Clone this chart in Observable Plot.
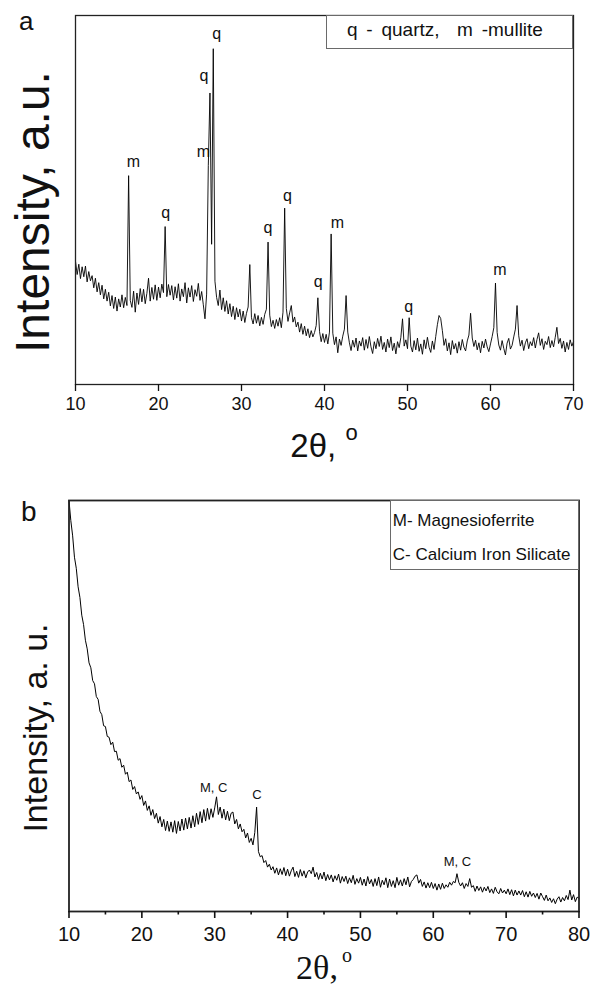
<!DOCTYPE html>
<html>
<head>
<meta charset="utf-8">
<script src="https://cdn.jsdelivr.net/npm/d3@7"></script>
<script src="https://cdn.jsdelivr.net/npm/@observablehq/plot@0.6"></script>
<style>
  html, body { margin: 0; padding: 0; background: #fff; }
  #wrap { position: relative; width: 593px; height: 988px; overflow: hidden; font-family: "Liberation Sans", Arial, sans-serif; color: #111; }
  #wrap > svg { position: absolute; left: 0; }
  .abs { position: absolute; line-height: 1; white-space: nowrap; }
  .box { position: absolute; box-sizing: border-box; border: 1px solid #6a6a6a; background: #fff; }
</style>
</head>
<body>
<div id="wrap"></div>
<script>
// ---------------- Panel a data (2θ from 10° to 70°, step 0.2°) ----------------
const thetaStartA = 10;
const thetaStepA = 0.2;
const intensityA = [
  33.4, 29.8, 32.6, 28.7, 31.9, 29.2, 32.1, 27.8, 30.6, 28.1,   // 10.0
  29.5, 26.2, 28.8, 25.1, 27.6, 24.3, 26.9, 23.2, 25.8, 22.6,   // 12.0
  25.0, 21.3, 24.1, 20.6, 23.7, 19.9, 23.2, 21.0, 24.3, 20.8,   // 14.0
  23.6, 21.4, 56.6, 22.8, 20.9, 25.3, 19.6, 24.8, 21.7, 26.0,   // 16.0
  22.4, 25.8, 21.9, 24.7, 28.8, 22.6, 26.3, 23.1, 27.0, 22.8,   // 18.0
  26.4, 23.5, 27.2, 24.9, 42.8, 23.8, 27.1, 24.2, 26.8, 22.9,   // 20.0
  26.5, 23.4, 27.3, 22.6, 25.9, 23.8, 27.6, 22.1, 26.2, 23.7,   // 22.0
  26.8, 22.5, 25.7, 23.9, 27.4, 22.8, 25.2, 21.6, 17.8, 24.5,   // 24.0
  59.3, 79.0, 38.0, 91.0, 28.0, 23.6, 21.4, 25.6, 20.3, 23.5,   // 26.0
  19.8, 22.7, 19.1, 21.9, 18.4, 21.2, 17.6, 20.8, 18.3, 20.4,   // 28.0
  17.2, 19.9, 16.8, 19.3, 21.0, 32.5, 18.1, 16.4, 19.2, 16.6,   // 30.0
  18.7, 15.9, 18.2, 16.3, 19.0, 20.4, 38.6, 18.8, 15.7, 17.4,   // 32.0
  15.2, 17.6, 15.8, 18.1, 15.4, 19.6, 47.8, 20.6, 17.1, 19.4,   // 34.0
  21.4, 16.9, 18.3, 15.6, 16.9, 14.2, 16.5, 13.6, 15.8, 13.2,   // 36.0
  15.1, 12.7, 14.6, 12.9, 14.1, 16.0, 23.5, 14.4, 11.6, 13.8,   // 38.0
  11.4, 13.6, 11.0, 14.2, 40.8, 13.9, 10.8, 12.9, 8.6, 12.3,    // 40.0
  10.6, 13.1, 15.0, 24.1, 14.2, 11.3, 9.2, 12.0, 10.1, 12.6,    // 42.0
  9.1, 11.8, 10.4, 12.7, 9.3, 12.2, 9.8, 13.0, 10.2, 8.4,       // 44.0
  11.6, 9.7, 12.5, 10.3, 13.1, 9.5, 11.4, 8.8, 12.3, 10.0,      // 46.0
  12.9, 9.2, 11.2, 8.3, 11.6, 10.0, 12.8, 17.8, 10.4, 12.1,     // 48.0
  9.7, 18.1, 10.4, 8.8, 11.9, 9.4, 12.6, 9.0, 11.0, 8.2,        // 50.0
  12.1, 9.7, 12.8, 10.1, 8.7, 11.8, 9.5, 13.0, 16.2, 18.7,      // 52.0
  17.9, 14.6, 10.6, 12.4, 9.1, 11.3, 8.1, 11.9, 9.6, 11.1,      // 54.0
  8.5, 11.6, 9.3, 12.2, 10.1, 9.1, 11.8, 13.4, 19.3, 12.6,      // 56.0
  10.3, 12.0, 9.4, 11.3, 8.6, 11.7, 9.9, 12.3, 10.2, 8.9,       // 58.0
  11.0, 13.0, 15.4, 27.5, 14.1, 10.7, 9.3, 11.9, 9.8, 8.0,      // 60.0
  11.2, 12.5, 9.6, 10.6, 12.9, 15.0, 21.4, 13.2, 10.4, 12.0,    // 62.0
  9.2, 11.3, 12.4, 9.7, 11.6, 10.5, 12.7, 9.9, 12.2, 14.0,      // 64.0
  10.6, 12.4, 9.5, 11.7, 10.8, 13.0, 10.0, 11.9, 10.2, 12.8,    // 66.0
  15.5, 11.1, 12.5, 9.8, 11.8, 8.8, 11.4, 9.5, 12.1, 10.4,      // 68.0
  11.6                                                          // 70.0
];
const ticksA = [10, 20, 30, 40, 50, 60, 70];
const peakTextA  = ["m", "q", "m", "q", "q", "q", "q", "q", "m", "q", "m"];
const peakThetaA = [16.99, 20.88, 25.42, 25.49, 27.02, 33.2, 35.54, 39.23, 41.57, 50.16, 61.14];
const peakLevelA = [60.4, 46.4, 63.0, 83.6, 94.9, 42.4, 51.2, 27.9, 43.7, 21.1, 31.1];

// ---------------- Panel b data (2θ from 10° to 80°, step 0.25°) ----------------
const thetaStartB = 10;
const thetaStepB = 0.25;
const intensityB = [
  100, 95.1, 91.4, 86.2, 83.5, 79.0, 76.4, 72.1,   // 10
  69.8, 66.0, 63.9, 60.5, 59.3, 56.2, 55.4, 52.3,  // 12
  51.6, 48.7, 47.9, 45.2, 45.0, 42.6, 42.4, 40.6,  // 14
  41.2, 38.9, 39.0, 36.8, 37.2, 35.1, 35.6, 33.4,  // 16
  33.9, 31.6, 32.0, 29.7, 30.4, 28.6, 29.1, 27.3,  // 18
  28.2, 25.8, 26.9, 24.6, 25.7, 23.4, 24.8, 22.6,  // 20
  23.9, 21.5, 23.1, 20.6, 22.4, 19.7, 22.0, 19.5,  // 22
  21.8, 19.3, 22.1, 19.0, 21.9, 19.6, 22.5, 19.8,  // 24
  22.7, 20.1, 22.9, 20.3, 23.3, 20.6, 23.9, 21.2,  // 26
  24.3, 21.6, 24.8, 22.0, 25.1, 22.4, 25.0, 22.9,  // 28
  25.2, 27.9, 23.6, 25.4, 22.7, 24.9, 22.3, 24.4,  // 30
  22.1, 23.9, 24.2, 21.3, 22.4, 20.1, 21.3, 19.4,  // 32
  20.0, 17.9, 19.1, 16.8, 17.8, 16.2, 19.2, 25.4,  // 34
  14.6, 13.3, 13.6, 11.9, 12.4, 10.8, 11.5, 10.1,  // 36
  10.9, 9.3, 10.6, 8.9, 10.4, 9.0, 10.7, 8.7,      // 38
  10.3, 8.6, 9.9, 10.8, 8.5, 9.8, 8.3, 10.2,       // 40
  8.6, 9.9, 8.2, 9.6, 10.1, 9.2, 10.8, 8.4,        // 42
  9.5, 7.8, 9.3, 7.9, 9.6, 7.5, 9.0, 7.7,          // 44
  8.9, 7.2, 8.7, 7.6, 9.1, 6.9, 8.5, 7.3,          // 46
  8.6, 6.8, 8.2, 7.0, 8.8, 6.6, 8.0, 6.9,          // 48
  8.3, 6.4, 7.9, 6.2, 8.5, 6.7, 7.8, 6.1,          // 50
  8.0, 6.3, 8.4, 5.9, 7.6, 6.5, 8.2, 5.8,          // 52
  7.9, 6.1, 7.5, 5.8, 8.3, 6.4, 7.7, 6.2,          // 54
  8.0, 6.5, 8.4, 6.0, 7.3, 7.8, 8.6, 8.9,          // 56
  6.9, 7.8, 6.1, 7.2, 5.7, 7.0, 5.8, 7.1,          // 58
  5.6, 6.8, 5.2, 6.7, 5.4, 6.9, 5.6, 6.5,          // 60
  5.9, 7.1, 6.4, 7.3, 7.0, 9.2, 7.1, 6.2,          // 62
  7.0, 5.6, 6.8, 6.1, 8.0, 5.9, 6.3, 4.9,          // 64
  6.2, 5.1, 6.0, 4.7, 5.9, 5.0, 6.1, 4.6,          // 66
  5.5, 4.4, 5.9, 4.8, 4.3, 5.6, 4.5, 5.2,          // 68
  4.3, 5.5, 4.1, 5.3, 3.8, 5.2, 4.0, 5.0,          // 70
  4.0, 5.1, 3.6, 4.8, 3.5, 4.9, 3.7, 4.5,          // 72
  3.4, 4.4, 3.0, 4.5, 3.6, 2.7, 4.0, 2.6,          // 74
  3.3, 2.2, 3.1, 1.9, 3.0, 3.6, 2.3, 3.4,          // 76
  2.6, 3.9, 2.9, 5.2, 2.8, 4.1, 2.4, 3.5,          // 78
  3.2                                              // 80
];
const majorTicksB = [10, 20, 30, 40, 50, 60, 70, 80];
const minorTicksB = [15, 25, 35, 45, 55, 65, 75];
const peakTextB  = ["M, C", "C", "M, C"];
const peakThetaB = [29.86, 35.78, 63.31];
const peakLevelB = [30.1, 28.5, 12.2];

// ---------------- build tables ----------------
const seriesA = intensityA.map((v, i) => ({theta: thetaStartA + i * thetaStepA, value: v}));
const seriesB = intensityB.map((v, i) => ({theta: thetaStartB + i * thetaStepB, value: v}));
const labelsA = peakTextA.map((t, i) => ({text: t, theta: peakThetaA[i], value: peakLevelA[i]}));
const labelsB = peakTextB.map((t, i) => ({text: t, theta: peakThetaB[i], value: peakLevelB[i]}));

const wrap = document.getElementById("wrap");
const baseStyle = {background: "transparent", fontFamily: "'Liberation Sans', Arial, sans-serif", color: "#111", overflow: "visible"};

// force tick-label font size on the axis text produced by Plot
function setTickFont(svg, px) {
  d3.select(svg).selectAll('g[aria-label$="tick label"]').style("font-size", px + "px")
    .selectAll("text").style("font-size", px + "px");
}

// ---------------- Panel a ----------------
const plotA = Plot.plot({
  width: 593, height: 420,
  marginLeft: 75, marginRight: 20, marginTop: 15, marginBottom: 36,
  style: {...baseStyle, fontSize: "18px"},
  x: {domain: [10, 70], label: null},
  y: {domain: [0, 100], axis: null},
  marks: [
    Plot.line(seriesA, {x: "theta", y: "value", stroke: "#000", strokeWidth: 0.9}),
    Plot.text(labelsA, {x: "theta", y: "value", text: "text", fontSize: 16, fill: "#111"}),
    Plot.frame({stroke: "#222", strokeWidth: 1.3}),
    Plot.axisX({ticks: ticksA, tickSize: 7, tickPadding: 6, label: null, fontSize: 18, strokeWidth: 1.3})
  ]
});
plotA.style.top = "0px";
setTickFont(plotA, 18);
wrap.appendChild(plotA);

// ---------------- Panel b ----------------
const plotB = Plot.plot({
  width: 593, height: 466,
  marginLeft: 68.5, marginRight: 14.5, marginTop: 15, marginBottom: 40,
  style: {...baseStyle, fontSize: "20px"},
  x: {domain: [10, 80], label: null},
  y: {domain: [0, 100], axis: null},
  marks: [
    Plot.line(seriesB, {x: "theta", y: "value", stroke: "#000", strokeWidth: 1}),
    Plot.text(labelsB, {x: "theta", y: "value", text: "text", fontSize: 13, fill: "#111"}),
    Plot.frame({stroke: "#222", strokeWidth: 1.8}),
    Plot.axisX({ticks: majorTicksB, tickSize: 7, tickPadding: 8, label: null, fontSize: 20, strokeWidth: 1.6}),
    Plot.axisX({ticks: minorTicksB, tickSize: 3.5, tickFormat: () => "", label: null, strokeWidth: 1.6})
  ]
});
plotB.style.top = "485px";
setTickFont(plotB, 20);
wrap.appendChild(plotB);

// ---------------- text overlays (titles, panel letters, legends) ----------------
function addDiv(html, css, cls = "abs") {
  const d = document.createElement("div");
  d.className = cls;
  d.innerHTML = html;
  Object.assign(d.style, css);
  wrap.appendChild(d);
  return d;
}
// panel letters
addDiv("a", {left: "19px", top: "8px", fontSize: "26px"});
addDiv("b", {left: "21px", top: "498px", fontSize: "28px"});
// y titles (rotated)
addDiv("Intensity, a.u.", {left: "33.4px", top: "212px", fontSize: "48px", transform: "translate(-50%,-50%) rotate(-90deg)"});
addDiv("Intensity, a. u.", {left: "34.7px", top: "728px", fontSize: "34px", transform: "translate(-50%,-50%) rotate(-90deg)"});
// x titles
addDiv('2θ, <span style="position:relative;top:-17px;font-size:22px;">o</span>',
  {left: "224px", width: "200px", textAlign: "center", top: "429px", fontSize: "33px"});
addDiv('2θ,<span style="position:relative;top:-17px;font-size:20px;margin-left:4px;">o</span>',
  {left: "224px", width: "200px", textAlign: "center", top: "951px", fontSize: "34px", fontFamily: "'Liberation Serif', 'Times New Roman', serif"});
// legend a
addDiv("", {left: "325.7px", top: "14.7px", width: "247.8px", height: "34.6px"}, "box");
addDiv("q - quartz,&nbsp; m -mullite", {left: "347px", top: "19.9px", fontSize: "19px", wordSpacing: "3.5px"});
// legend b
addDiv("", {left: "390px", top: "500px", width: "189px", height: "70px"}, "box");
addDiv("M- Magnesioferrite", {left: "392.8px", top: "512.3px", fontSize: "17px"});
addDiv("C- Calcium Iron Silicate", {left: "392.8px", top: "545.6px", fontSize: "17px"});
</script>
</body>
</html>
